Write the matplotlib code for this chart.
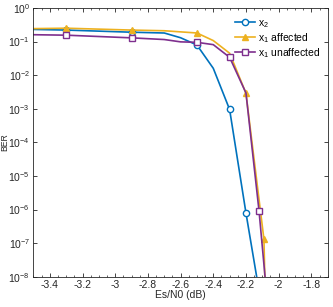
import numpy as np
import matplotlib
matplotlib.use("Agg")
import matplotlib.pyplot as plt
from matplotlib.ticker import MultipleLocator, LogLocator, NullLocator

plt.rcParams['font.family'] = ['Liberation Sans', 'DejaVu Sans']
plt.rcParams['mathtext.default'] = 'regular'

# Es/N0 (dB) and BER
x2_snr = [-3.5, -3.3, -2.9, -2.7, -2.6, -2.5, -2.4, -2.3, -2.2, -2.1]
x2_ber = [0.23, 0.22, 0.19, 0.18, 0.13, 0.079, 0.016, 9.5e-4, 7.9e-7, 1e-9]
x2_marks = [1, 2, 5, 7, 8]

aff_snr = [-3.5, -3.3, -2.9, -2.7, -2.5, -2.4, -2.3, -2.2, -2.09, -2.08]
aff_ber = [0.243, 0.25, 0.22, 0.21, 0.18, 0.107, 0.045, 2.9e-3, 1.3e-7, 1.1e-9]
aff_marks = [1, 2, 4, 7, 8]

unaff_snr = [-3.5, -3.3, -2.9, -2.7, -2.6, -2.5, -2.4, -2.3, -2.2, -2.12, -2.07]
unaff_ber = [0.16, 0.155, 0.129, 0.115, 0.098, 0.095, 0.081, 0.034, 2.95e-3, 9.1e-7, 2e-9]
unaff_marks = [1, 2, 5, 7, 9]

labels = ['x$_2$', 'x$_1$ affected', 'x$_1$ unaffected']

fig = plt.figure(figsize=(3.33, 3.07), dpi=100)
ax = fig.add_axes([0.1006, 0.0987, 0.8834, 0.8753])

ax.semilogy(x2_snr, x2_ber, '-o', color='#0072BD', lw=1.2, ms=4.5,
            mfc='white', mew=1.0, markevery=x2_marks, label=labels[0])
ax.semilogy(aff_snr, aff_ber, '-^', color='#EDB120', lw=1.2, ms=5,
            mfc='#EDB120', mew=1.0, markevery=aff_marks, label=labels[1])
ax.semilogy(unaff_snr, unaff_ber, '-s', color='#7E2F8E', lw=1.2, ms=4.2,
            mfc='white', mew=1.0, markevery=unaff_marks, label=labels[2])

ax.set_xlim(-3.5, -1.7)
ax.set_ylim(1e-8, 1)
ax.xaxis.set_major_locator(MultipleLocator(0.2))
ax.xaxis.set_minor_locator(MultipleLocator(0.05))
ax.yaxis.set_major_locator(LogLocator(base=10, numticks=20))
ax.yaxis.set_minor_locator(NullLocator())
ax.set_xticklabels([f'{v:g}' for v in ax.get_xticks()])

ax.tick_params(which='both', direction='in', top=True, right=True,
               colors='#262626', labelsize=7.5)
ax.tick_params(which='major', length=3, width=0.6, pad=2.5)
ax.tick_params(which='minor', length=1.6, width=0.5)
for s in ax.spines.values():
    s.set_color('#262626')
    s.set_linewidth(0.6)

ax.set_xlabel('Es/N0 (dB)', fontsize=7.5, color='#262626')
ax.set_ylabel('BER', fontsize=6.2, color='#262626', va='center')
ax.xaxis.set_label_coords(0.5, -0.05)
ax.yaxis.set_label_coords(-0.098, 0.5)

ax.legend(loc='upper right', frameon=False, fontsize=7.5, handlelength=1.9,
          handletextpad=0.3, labelspacing=0.12, borderaxespad=0.3,
          bbox_to_anchor=(1.0, 0.99))

fig.savefig('out.png', dpi=100)
